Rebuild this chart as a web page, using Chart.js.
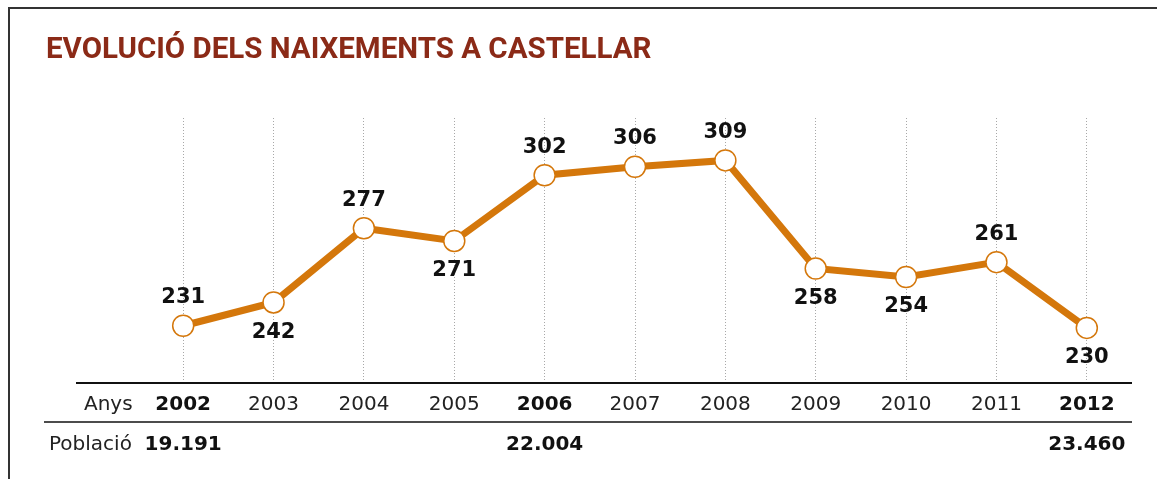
<!DOCTYPE html>
<html>
<head>
<meta charset="utf-8">
<script src="https://cdn.jsdelivr.net/npm/chart.js@4.4.0/dist/chart.umd.min.js"></script>
<style>
  html, body { margin: 0; padding: 0; background: #fff; }
  #wrap { width: 1157px; height: 479px; position: relative; }
</style>
</head>
<body>
<div id="wrap"><canvas id="chart" width="1157" height="479"></canvas></div>
<script>
const years = ['2002', '2003', '2004', '2005', '2006', '2007', '2008', '2009', '2010', '2011', '2012'];
const births = [231, 242, 277, 271, 302, 306, 309, 258, 254, 261, 230];
const labelBelow = [false, true, false, true, false, false, false, true, true, false, true];
const boldYears = ['2002', '2006', '2012'];
const population = ['19.191', '', '', '', '22.004', '', '', '', '', '', '23.460'];

const orange = '#d4770b';
const ink = '#111';
const soft = '#222';
const numFont = '"DejaVu Sans"';

// frame, title, value labels, axis rows
const decor = {
  id: 'decor',
  afterDraw(chart) {
    const c = chart.ctx;
    const area = chart.chartArea;
    const xs = chart.scales.x;
    c.save();

    // frame
    c.strokeStyle = '#333';
    c.lineWidth = 2;
    c.beginPath();
    c.moveTo(9, 479);
    c.lineTo(9, 8);
    c.lineTo(1157, 8);
    c.stroke();

    // title
    c.fillStyle = '#8b2a17';
    c.font = 'bold 29.5px Roboto';
    c.textBaseline = 'middle';
    c.textAlign = 'left';
    c.fillText('EVOLUCIÓ DELS NAIXEMENTS A CASTELLAR', 46, 51);

    // axis lines
    c.strokeStyle = ink;
    c.lineWidth = 2;
    c.beginPath();
    c.moveTo(76, area.bottom);
    c.lineTo(area.right, area.bottom);
    c.stroke();
    c.lineWidth = 1.5;
    c.beginPath();
    c.moveTo(44, 422);
    c.lineTo(area.right, 422);
    c.stroke();

    // row headings
    c.fillStyle = soft;
    c.font = '20px ' + numFont;
    c.textAlign = 'left';
    c.fillText('Anys', 84, 405);
    c.fillText('Població', 49, 445);

    // population values
    c.fillStyle = ink;
    c.font = 'bold 20px ' + numFont;
    c.textAlign = 'center';
    population.forEach((p, i) => {
      if (p) c.fillText(p, xs.getPixelForValue(i), 445);
    });

    // value labels
    const meta = chart.getDatasetMeta(0);
    c.font = 'bold 21px ' + numFont;
    meta.data.forEach((pt, i) => {
      const y = labelBelow[i] ? pt.y + 30 : pt.y - 28;
      c.fillText(String(births[i]), pt.x, y);
    });
    c.restore();
  }
};

new Chart(document.getElementById('chart'), {
  type: 'line',
  data: {
    labels: years,
    datasets: [{
      data: births,
      borderColor: orange,
      borderWidth: 7,
      pointRadius: 10.5,
      pointBorderWidth: 1.5,
      pointBackgroundColor: '#fff',
      pointBorderColor: orange,
      tension: 0,
      clip: false
    }]
  },
  options: {
    responsive: false,
    animation: false,
    events: [],
    layout: { padding: { left: 138, right: 25, top: 118, bottom: 52 } },
    plugins: { legend: { display: false }, tooltip: { enabled: false } },
    scales: {
      x: {
        offset: true,
        grid: {
          offset: false,
          drawTicks: false,
          color: '#a8a8a8',
          lineWidth: 1
        },
        border: { display: false, dash: [1, 2] },
        ticks: {
          padding: 10,
          color: (ctx) => boldYears.includes(years[ctx.index]) ? ink : soft,
          font: (ctx) => ({
            family: numFont,
            size: 20,
            weight: boldYears.includes(years[ctx.index]) ? 'bold' : 'normal'
          })
        }
      },
      y: {
        display: false,
        min: 204,
        max: 329
      }
    }
  },
  plugins: [decor]
});
</script>
</body>
</html>
